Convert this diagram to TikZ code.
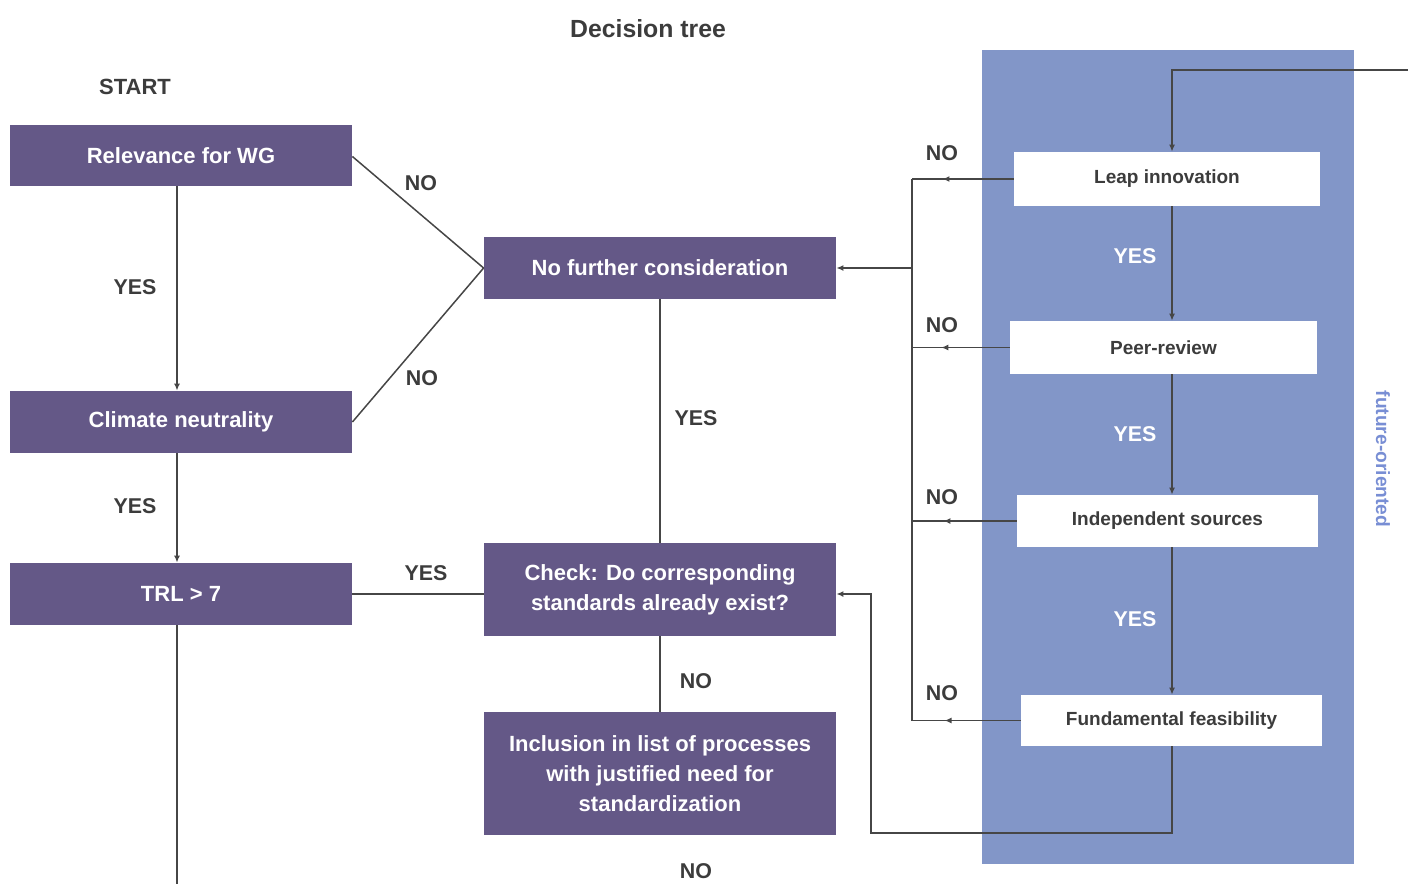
\documentclass[tikz,border=0pt]{standalone}
\usepackage{fontspec}
\setmainfont{Liberation Sans}
\usepackage{tikz}
\usetikzlibrary{arrows.meta,decorations.markings}
\definecolor{boxpurple}{RGB}{100,88,135}
\definecolor{panelblue}{RGB}{130,150,200}
\definecolor{txtgray}{RGB}{60,60,60}
\definecolor{linegray}{RGB}{70,70,70}
\definecolor{futblue}{RGB}{120,142,212}
\begin{document}
\begin{tikzpicture}[x=0.5pt,y=-0.5pt,
  tip/.style={-{Latex[length=3.5pt,width=3pt]}},
  conn/.style={draw=linegray,line width=0.75pt},
  midarr/.style={postaction={decorate},decoration={markings,mark=at position 0.7 with {\arrow{Latex[length=3.5pt,width=3pt]}}}},
  pbox/.style={fill=boxpurple,text=white,font=\fontsize{11}{15}\selectfont\bfseries,align=center,inner sep=0pt},
  wbox/.style={fill=white,text=txtgray,font=\fontsize{9.5}{12}\selectfont\bfseries,inner sep=0pt},
  lbl/.style={text=txtgray,font=\fontsize{10.7}{13}\selectfont\bfseries,inner sep=0pt},
  wlbl/.style={lbl,text=white}]
\useasboundingbox (0,0) rectangle (1408,884);
\fill[panelblue] (982,50) rectangle (1354,864);

\node[pbox,minimum width=171pt,minimum height=30.5pt] (rel) at (181,155.5) {Relevance for WG};
\node[pbox,minimum width=171pt,minimum height=31pt] (clim) at (181,422) {Climate neutrality};
\node[pbox,minimum width=171pt,minimum height=31pt] (trl) at (181,594) {TRL > 7};
\node[pbox,minimum width=176pt,minimum height=31pt] (nfc) at (660,268) {No further consideration};
\node[pbox,minimum width=176pt,minimum height=46.5pt] (chk) at (660,589.5) {Check: Do corresponding\\standards already exist?};
\node[pbox,minimum width=176pt,minimum height=61.5pt] (inc) at (660,773.5) {Inclusion in list of processes\\with justified need for\\standardization};

\node[wbox,minimum width=153pt,minimum height=27pt] (leap) at (1167,179) {Leap innovation};
\node[wbox,minimum width=153.5pt,minimum height=26.5pt] (peer) at (1163.5,347.5) {Peer-review};
\node[wbox,minimum width=150.5pt,minimum height=26pt] (ind) at (1167.5,521) {Independent sources};
\node[wbox,minimum width=150.5pt,minimum height=25.5pt] (fund) at (1171.5,720.5) {Fundamental feasibility};

\coordinate (leftcol) at (177,0);
\coordinate (spine) at (1172,0);
\coordinate (bus) at (912,0);
\coordinate (entry) at (1408,70);
\coordinate (loopb) at (871,833);
\coordinate (trlend) at (177,884);

\draw[conn,tip] (rel.south -| leftcol) -- (clim.north -| leftcol);
\draw[conn,tip] (clim.south -| leftcol) -- (trl.north -| leftcol);
\draw[conn] (trl.south -| leftcol) -- (trlend);
\draw[conn] ([yshift=-0.5pt]rel.east) -- (nfc.west);
\draw[conn] (clim.east) -- (nfc.west);
\draw[conn] (trl.east) -- (trl.east -| chk.west);
\draw[conn] (nfc.south) -- (chk.north);
\draw[conn] (chk.south) -- (inc.north);

\draw[conn,tip] (entry) -| (leap.north -| spine);
\draw[conn,tip] (leap.south -| spine) -- (peer.north -| spine);
\draw[conn,tip] (peer.south -| spine) -- (ind.north -| spine);
\draw[conn,tip] (ind.south -| spine) -- (fund.north -| spine);
\draw[conn,tip] (fund.south -| spine) |- (loopb) |- (trl.east -| chk.east);

\draw[conn,midarr] (leap.west) -- (leap.west -| bus);
\draw[conn,midarr] (peer.west) -- (peer.west -| bus);
\draw[conn,midarr] (ind.west) -- (ind.west -| bus);
\draw[conn,midarr] (fund.west) -- (fund.west -| bus);
\draw[conn] (leap.west -| bus) -- (fund.west -| bus);
\draw[conn,tip] (nfc.east -| bus) -- (nfc.east);

\node[text=txtgray,font=\fontsize{12.4}{15}\selectfont\bfseries,inner sep=0pt] (title) at (648,29) {Decision tree};
\node[lbl,font=\fontsize{11}{13}\selectfont\bfseries] (start) at (135,87) {START};
\node[lbl] (y1) at (135,287) {YES};
\node[lbl] (n1) at (421,183) {NO};
\node[lbl] (n2) at (422,378) {NO};
\node[lbl] (y2) at (135,506) {YES};
\node[lbl] (y3) at (426,573) {YES};
\node[lbl] (y4) at (696,418) {YES};
\node[lbl] (n3) at (696,681) {NO};
\node[lbl] (n4) at (696,871) {NO};
\node[lbl] (n5) at (942,153) {NO};
\node[lbl] (n6) at (942,325) {NO};
\node[lbl] (n7) at (942,497) {NO};
\node[lbl] (n8) at (942,693) {NO};
\node[wlbl] (y5) at (1135,256) {YES};
\node[wlbl] (y6) at (1135,434) {YES};
\node[wlbl] (y7) at (1135,619) {YES};
\node[text=futblue,font=\fontsize{9.6}{12}\selectfont\bfseries,rotate=-90,inner sep=0pt] (fut) at (1383,459) {future-oriented};
\end{tikzpicture}
\end{document}
